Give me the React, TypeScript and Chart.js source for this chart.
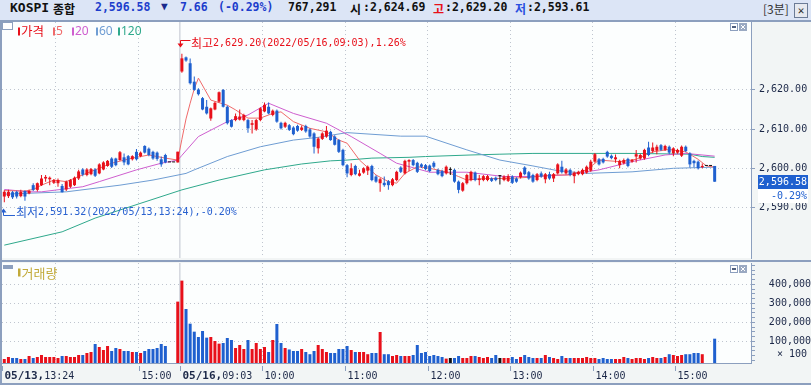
import React, { useEffect, useRef } from 'react';
import { Chart, registerables } from 'chart.js';

Chart.register(...registerables);

// ---------------- data (3-minute bars, 05/13 13:24 .. 05/16 15:30) ----------------
const opens = [
  2592.8, 2592.9, 2593.9, 2594.0, 2592.9, 2594.2, 2593.6, 2595.7, 2594.5, 2595.7,
  2597.4, 2597.2, 2596.3, 2596.2, 2595.5, 2594.6, 2595.3, 2595.7, 2597.4, 2599.7,
  2598.3, 2598.5, 2599.7, 2598.7, 2599.7, 2600.6, 2602.5, 2602.5, 2602.1, 2602.8,
  2603.1, 2602.3, 2604.2, 2603.1, 2605.7, 2605.0, 2604.2, 2604.0, 2602.3, 2603.4,
  2601.5, 2601.5, 2601.5, 2624.69, 2628.3, 2626.8, 2622.1, 2620.1, 2617.9, 2615.7,
  2612.7, 2615.0, 2617.0, 2620.0, 2615.7, 2612.3, 2612.3, 2612.4, 2612.3, 2612.3,
  2611.1, 2609.9, 2612.3, 2614.5, 2615.7, 2613.6, 2614.7, 2611.6, 2610.6, 2611.0,
  2610.4, 2610.8, 2609.8, 2610.8, 2609.9, 2608.9, 2605.1, 2607.5, 2608.1, 2609.3,
  2608.1, 2607.2, 2604.7, 2600.8, 2598.3, 2600.6, 2598.1, 2598.9, 2599.4, 2600.6,
  2597.9, 2596.2, 2596.3, 2596.7, 2595.7, 2597.0, 2600.2, 2598.7, 2601.7, 2602.1,
  2601.4, 2601.0, 2600.8, 2600.7, 2601.4, 2599.6, 2599.3, 2598.7, 2599.6, 2599.6,
  2596.6, 2594.3, 2596.2, 2597.0, 2598.9, 2597.0, 2597.0, 2597.0, 2597.4, 2597.6,
  2598.0, 2597.0, 2596.8, 2597.9, 2597.4, 2597.7, 2600.2, 2599.0, 2598.3, 2597.0,
  2598.7, 2597.2, 2598.5, 2597.4, 2598.7, 2600.4, 2598.7, 2599.6, 2598.0, 2598.5,
  2598.5, 2598.9, 2599.4, 2601.7, 2602.3, 2602.4, 2604.2, 2603.2, 2602.3, 2600.8,
  2601.3, 2602.4, 2601.7, 2603.0, 2602.5, 2602.5, 2605.3, 2604.4, 2604.5, 2605.9,
  2604.7, 2605.5, 2603.8, 2604.0, 2603.2, 2605.5, 2603.8, 2601.9, 2601.7, 2600.3,
  2600.6, 2600.6, 2600.6,
];
const highs = [
  2594.4, 2594.5, 2594.2, 2594.3, 2594.5, 2594.4, 2594.5, 2596.2, 2596.4, 2598.3,
  2598.3, 2597.9, 2597.3, 2597.4, 2596.0, 2596.9, 2597.3, 2597.9, 2599.6, 2600.0,
  2600.0, 2600.1, 2600.0, 2601.3, 2601.8, 2602.1, 2602.8, 2602.7, 2604.4, 2603.8,
  2603.4, 2603.3, 2604.9, 2604.3, 2605.9, 2605.3, 2604.5, 2604.3, 2603.0, 2603.7,
  2601.5, 2601.5, 2604.24, 2629.2, 2628.5, 2628.0, 2623.4, 2620.4, 2618.2, 2617.4,
  2615.5, 2617.0, 2619.6, 2620.2, 2616.0, 2612.5, 2614.0, 2615.0, 2613.9, 2612.6,
  2612.3, 2612.6, 2615.6, 2616.8, 2616.8, 2615.0, 2615.0, 2611.9, 2611.9, 2611.3,
  2610.7, 2611.1, 2610.9, 2611.1, 2610.2, 2609.2, 2607.9, 2609.2, 2610.8, 2609.6,
  2608.4, 2607.5, 2605.0, 2601.1, 2601.3, 2600.9, 2599.6, 2600.3, 2600.7, 2600.9,
  2598.2, 2597.5, 2597.9, 2597.0, 2597.5, 2599.4, 2600.5, 2602.2, 2602.3, 2602.4,
  2601.7, 2601.3, 2601.1, 2601.0, 2601.8, 2599.9, 2599.6, 2600.7, 2600.3, 2599.9,
  2596.9, 2596.5, 2598.6, 2599.4, 2599.2, 2598.3, 2598.3, 2598.3, 2597.7, 2597.9,
  2598.3, 2598.2, 2598.5, 2598.2, 2597.7, 2599.2, 2600.5, 2599.3, 2598.6, 2598.8,
  2599.2, 2598.8, 2599.1, 2598.8, 2601.3, 2601.9, 2600.0, 2599.9, 2599.2, 2599.4,
  2599.9, 2600.7, 2602.2, 2603.9, 2602.6, 2602.7, 2604.5, 2603.5, 2603.5, 2602.2,
  2602.5, 2602.7, 2602.4, 2604.7, 2603.7, 2605.0, 2606.8, 2606.6, 2606.0, 2606.2,
  2606.0, 2605.8, 2605.4, 2605.0, 2605.8, 2605.8, 2604.1, 2602.2, 2602.0, 2601.2,
  2600.6, 2600.6, 2600.6,
];
const lows = [
  2591.32, 2592.4, 2592.2, 2592.3, 2592.6, 2591.7, 2593.4, 2594.2, 2594.1, 2595.5,
  2596.6, 2595.7, 2596.0, 2595.3, 2593.8, 2594.2, 2595.0, 2595.5, 2597.0, 2598.0,
  2598.0, 2598.2, 2597.8, 2598.5, 2599.5, 2600.4, 2600.1, 2600.5, 2601.9, 2600.8,
  2600.8, 2602.0, 2602.0, 2602.8, 2603.8, 2603.1, 2602.2, 2601.9, 2600.4, 2601.3,
  2601.5, 2601.5, 2601.5, 2624.4, 2627.2, 2621.4, 2619.8, 2618.6, 2614.8, 2613.7,
  2612.1, 2614.8, 2616.8, 2615.5, 2611.2, 2610.4, 2612.0, 2612.2, 2612.0, 2609.1,
  2608.9, 2609.6, 2612.0, 2614.3, 2613.8, 2613.3, 2611.6, 2609.9, 2610.3, 2609.5,
  2608.4, 2609.3, 2609.5, 2609.1, 2607.8, 2603.8, 2603.8, 2607.2, 2607.8, 2607.0,
  2605.8, 2603.9, 2600.5, 2597.7, 2598.0, 2598.2, 2597.9, 2598.6, 2598.3, 2596.7,
  2596.3, 2594.0, 2595.3, 2594.5, 2595.4, 2596.7, 2598.8, 2598.4, 2599.3, 2600.5,
  2598.8, 2600.1, 2599.5, 2599.0, 2600.1, 2598.2, 2597.7, 2598.4, 2598.3, 2596.3,
  2593.61, 2594.0, 2595.9, 2596.7, 2596.7, 2595.7, 2596.7, 2596.7, 2596.5, 2596.7,
  2595.9, 2596.7, 2596.5, 2596.0, 2596.3, 2597.4, 2598.2, 2597.1, 2596.3, 2596.7,
  2597.6, 2596.2, 2597.1, 2596.5, 2598.4, 2598.7, 2598.4, 2598.0, 2596.2, 2598.2,
  2598.2, 2598.6, 2599.1, 2601.4, 2600.7, 2601.2, 2602.7, 2602.3, 2601.4, 2600.0,
  2601.0, 2600.3, 2601.4, 2601.5, 2602.2, 2602.2, 2603.1, 2603.9, 2603.6, 2604.4,
  2604.4, 2603.6, 2603.1, 2603.7, 2602.9, 2604.1, 2600.2, 2600.3, 2599.7, 2600.0,
  2600.6, 2600.6, 2596.58,
];
const closes = [
  2594.0, 2594.0, 2592.6, 2592.8, 2594.0, 2592.8, 2594.2, 2594.5, 2596.2, 2597.4,
  2597.8, 2597.6, 2597.0, 2597.0, 2593.9, 2596.6, 2597.0, 2597.6, 2599.2, 2598.4,
  2599.7, 2599.8, 2598.1, 2601.0, 2601.5, 2601.9, 2600.4, 2600.8, 2604.1, 2601.5,
  2601.0, 2603.1, 2602.3, 2604.0, 2604.0, 2603.4, 2602.5, 2602.4, 2601.0, 2601.5,
  2601.5, 2601.5, 2604.24, 2628.05, 2627.5, 2621.7, 2620.0, 2618.9, 2615.0, 2614.0,
  2615.3, 2616.7, 2619.4, 2615.7, 2611.5, 2610.6, 2613.3, 2613.2, 2613.6, 2610.2,
  2611.5, 2612.3, 2615.3, 2616.2, 2614.0, 2614.7, 2611.9, 2610.2, 2611.6, 2609.8,
  2608.7, 2609.6, 2610.4, 2609.4, 2608.1, 2605.5, 2607.6, 2608.9, 2609.6, 2607.2,
  2606.0, 2604.2, 2600.8, 2598.7, 2600.0, 2598.5, 2598.7, 2600.0, 2600.4, 2597.0,
  2596.6, 2597.2, 2595.7, 2595.7, 2597.2, 2599.1, 2599.1, 2601.9, 2602.1, 2600.8,
  2599.1, 2600.4, 2599.8, 2599.3, 2600.4, 2598.5, 2598.0, 2600.4, 2599.6, 2596.6,
  2594.5, 2596.2, 2598.3, 2599.1, 2597.0, 2597.4, 2598.0, 2598.0, 2596.8, 2597.0,
  2598.0, 2597.9, 2598.0, 2596.3, 2596.6, 2598.9, 2598.5, 2597.4, 2596.6, 2598.5,
  2597.9, 2598.5, 2597.4, 2598.5, 2601.0, 2599.0, 2599.7, 2598.3, 2598.9, 2599.1,
  2599.6, 2600.4, 2601.7, 2603.6, 2601.0, 2601.5, 2603.0, 2602.6, 2602.8, 2601.9,
  2602.1, 2600.6, 2602.1, 2603.6, 2603.4, 2604.7, 2603.4, 2605.3, 2605.5, 2604.7,
  2605.7, 2604.0, 2605.1, 2604.7, 2605.5, 2604.4, 2601.0, 2601.3, 2600.0, 2600.6,
  2600.6, 2600.6, 2596.58,
];
const volumes = [
  6800, 17400, 12100, 12100, 6800, 6800, 22600, 12100, 17400, 27900,
  17400, 17400, 17400, 12100, 22600, 22600, 17400, 17400, 27900, 27900,
  38400, 43700, 85800, 70000, 54200, 75300, 49000, 64700, 59500, 49000,
  49000, 43700, 43700, 38400, 49000, 59500, 59500, 64700, 85800, 75300,
  0, 0, 308800, 419400, 270000, 192800, 150700, 122700, 154200, 119200,
  122700, 101600, 87600, 91100, 117400, 106900, 64700, 80500, 59500, 106900,
  59500, 91100, 59500, 70000, 43700, 106900, 191000, 91100, 64700, 57000,
  49000, 49000, 59500, 43700, 32100, 49000, 80500, 59500, 43700, 38400,
  38400, 59500, 59500, 75300, 54200, 43700, 43700, 43700, 32100, 38400,
  38400, 149000, 32100, 32100, 22600, 27900, 22600, 22600, 22600, 27900,
  80500, 38400, 43700, 22600, 27900, 22600, 17400, 9000, 12100, 12100,
  22600, 12100, 12100, 22600, 22600, 17400, 12100, 17400, 12100, 27900,
  12100, 12100, 12100, 17400, 6800, 17400, 27900, 17400, 12100, 12100,
  12100, 27900, 17400, 12100, 6800, 22600, 12100, 12100, 12100, 12100,
  12100, 17400, 12100, 12100, 6800, 12100, 6800, 6800, 6800, 6800,
  17400, 12100, 6800, 12100, 12100, 6800, 12100, 17400, 12100, 12100,
  17400, 32100, 27900, 22600, 27900, 32100, 32100, 38400, 38400, 32100,
  0, 0, 113800,
];

// moving averages: [bar index, value]
const ma5 = [
  [0, 2594.3], [5, 2594.2], [7, 2594.6], [9, 2595.7], [12, 2597.0], [15, 2596.6], [18, 2597.9],
  [22, 2599.6], [26, 2601.3], [31, 2602.6], [35, 2603.4], [39, 2602.6], [42, 2602.1], [43, 2607.4],
  [44, 2612.6], [45, 2616.6], [46, 2620.3], [47, 2623.0], [50, 2617.4], [54, 2616.1], [56, 2614.9],
  [59, 2612.8], [62, 2612.8], [65, 2614.0], [67, 2614.4], [70, 2611.9], [74, 2610.2], [78, 2609.3],
  [81, 2607.2], [83, 2606.4], [86, 2602.1], [90, 2598.3], [93, 2596.6], [95, 2596.2], [97, 2598.7],
  [100, 2600.4], [103, 2600.0], [107, 2599.1], [110, 2597.9], [112, 2597.0], [114, 2597.2],
  [117, 2597.4], [122, 2597.4], [127, 2597.7], [133, 2598.3], [137, 2598.3], [141, 2599.6],
  [144, 2602.1], [149, 2601.7], [153, 2602.3], [157, 2604.2], [161, 2604.8], [165, 2604.2],
  [168, 2602.3], [170, 2600.6], [172, 2600.3],
];
const ma20 = [
  [0, 2594.6], [6, 2594.0], [9, 2594.0], [19, 2595.3], [23, 2596.6], [32, 2599.6], [38, 2601.3],
  [42, 2602.1], [43, 2603.3], [47, 2608.1], [54, 2611.9], [59, 2613.6], [64, 2616.6], [70, 2614.0],
  [78, 2611.5], [84, 2608.1], [91, 2603.8], [95, 2601.3], [103, 2599.0], [112, 2599.0],
  [121, 2597.9], [128, 2597.9], [136, 2598.3], [144, 2599.6], [152, 2601.7], [160, 2603.4],
  [165, 2603.8], [172, 2603.1],
];
const ma60 = [
  [0, 2593.4], [15, 2594.0], [28, 2595.7], [36, 2597.0], [44, 2598.7], [46, 2599.6], [54, 2603.0],
  [62, 2605.5], [70, 2607.2], [76, 2607.9], [83, 2609.1], [96, 2608.2], [102, 2608.2],
  [112, 2604.7], [120, 2602.1], [128, 2600.6], [134, 2599.4], [141, 2598.7], [152, 2599.1],
  [162, 2600.0], [172, 2600.3],
];
const ma120 = [
  [0, 2580.4], [14, 2583.8], [22, 2587.3], [43, 2594.5], [52, 2597.0], [63, 2599.6], [72, 2601.1],
  [79, 2601.9], [83, 2602.1], [89, 2602.6], [98, 2602.8], [102, 2603.0], [113, 2603.4],
  [120, 2603.6], [128, 2603.8], [152, 2603.8], [166, 2603.6], [169, 2603.0], [172, 2602.8],
];

const prevDayCloseIdx = 42;
const priceTicks = [2590, 2600, 2610, 2620];
const volumeLabelTicks = [100000, 200000, 300000, 400000];
const volumeMinorStep = 25000;
const gridIdx = [12.5, 32.5, 62.5, 82.5, 102.5, 122.5, 142.5, 162.5];
const dateSepIdx = 42.5;
const axisTickIdx = [-0.5, 32.5, 42.5, 62.5, 82.5, 102.5, 122.5, 142.5, 162.5];
const axisDates = ['05/13,', '', '05/16,', '', '', '', '', '', ''];
const axisTimes = ['13:24', '15:00', '09:03', '10:00', '11:00', '12:00', '13:00', '14:00', '15:00'];
const legendLabels = ['가격', '5', '20', '60', '120'];
const volumeLegend = '거래량';
const highStamp = '2022/05/16,09:03';
const lowStamp = '2022/05/13,13:24';
const headerTitle = 'KOSPI';
const headerMarket = '종합';
const headerTotalVolume = '767,291';
const headerPeriod = '[3분]';

// ---------------- view constants ----------------
const X_MIN = -0.557;
const X_MAX = 180.8;
const P_MIN = 2577.12;
const P_MAX = 2637.32;
const V_MIN = -14210;
const V_MAX = 512100;

const C = {
  up: '#e8101a', down: '#1f60cf', flat: '#111111',
  ma5: '#f06a6a', ma20: '#cf5fcf', ma60: '#6f9dd3', ma120: '#2fa98c',
  frame: '#8c9fbe', grid: '#bfc5cf', plotBg: '#fcfefe', axisBg: '#f2f5f5',
  navy: '#1c2848', volLegend: '#c2aa3a', headerBg: '#dce5f6', sep: '#d3d7de',
  hdrBlue: '#1c3dcc', lowText: '#2a62d0',
};
const MONO = '"DejaVu Sans Mono", "Noto Sans CJK KR", monospace';
const KR = '"Noto Sans CJK KR", "Noto Sans", sans-serif';

const fmt2 = (v: number) => v.toLocaleString('en-US', { minimumFractionDigits: 2, maximumFractionDigits: 2 });
const fmt0 = (v: number) => v.toLocaleString('en-US');
const candleColor = (i: number) => (closes[i] > opens[i] ? C.up : closes[i] < opens[i] ? C.down : C.flat);

function drawMixed(ctx: any, x: number, y: number, parts: [string, string][]) {
  let cx = x;
  for (const [t, f] of parts) {
    ctx.font = f;
    ctx.fillText(t, cx, y);
    cx += ctx.measureText(t).width;
  }
}

function drawPanelIcons(ctx: any, x: number, y: number) {
  ctx.fillStyle = '#ffffff';
  ctx.fillRect(x, y, 8, 8);
  ctx.strokeStyle = C.frame;
  ctx.lineWidth = 1;
  ctx.strokeRect(x + 0.5, y + 0.5, 7, 7);
  ctx.fillStyle = '#4f5f7e';
  ctx.fillRect(x + 2, y + 3, 4, 2);
  ctx.fillStyle = '#9aa9c2';
  ctx.fillRect(x + 9, y, 8, 8);
  ctx.strokeStyle = '#ffffff';
  ctx.beginPath();
  ctx.moveTo(x + 11, y + 2);
  ctx.lineTo(x + 15, y + 6);
  ctx.moveTo(x + 15, y + 2);
  ctx.lineTo(x + 11, y + 6);
  ctx.stroke();
}

function xScale(showBorder: boolean) {
  return {
    type: 'linear',
    min: X_MIN,
    max: X_MAX,
    offset: false,
    grid: { color: C.grid, lineWidth: 1, drawTicks: false, offset: false },
    border: { display: showBorder, color: C.frame, width: 1, dash: [1, 3] },
    ticks: { display: false },
    afterBuildTicks: (s: any) => { s.ticks = gridIdx.map((v) => ({ value: v })); },
    afterFit: (s: any) => { s.height = 0; s.paddingLeft = 0; s.paddingRight = 0; s.paddingTop = 0; s.paddingBottom = 0; },
  };
}

function plotBg(chart: any) {
  const { ctx, chartArea: a } = chart;
  ctx.save();
  ctx.fillStyle = C.plotBg;
  ctx.fillRect(a.left, a.top, a.right - a.left, a.bottom - a.top);
  ctx.restore();
}

function dateSep(chart: any) {
  const { ctx, chartArea: a } = chart;
  const px = chart.scales.x.getPixelForValue(dateSepIdx);
  ctx.save();
  ctx.fillStyle = C.sep;
  ctx.fillRect(px - 0.75, a.top, 1.5, a.bottom - a.top);
  ctx.restore();
}

const pricePlugin = {
  id: 'priceDeco',
  beforeDraw: plotBg,
  beforeDatasetsDraw: dateSep,
  afterDraw(chart: any) {
    const { ctx } = chart;
    const xs = chart.scales.x;
    const ys = chart.scales.y;
    const last = closes[closes.length - 1];
    const prev = closes[prevDayCloseIdx];
    ctx.save();
    // tab
    ctx.fillStyle = '#ffffff';
    ctx.fillRect(2, 0, 11, 8);
    ctx.strokeStyle = C.frame;
    ctx.lineWidth = 1;
    ctx.strokeRect(2.5, 0.5, 10, 7);
    // legend
    const legColors = [C.up, C.ma5, C.ma20, C.ma60, C.ma120];
    const legX = [18, 53, 72, 96, 118];
    ctx.textBaseline = 'middle';
    ctx.textAlign = 'left';
    legendLabels.forEach((t, k) => {
      ctx.fillStyle = legColors[k];
      ctx.fillRect(legX[k], 5.5, 2, 8);
      ctx.font = k === 0 ? `12.5px ${KR}` : `12px "Noto Sans", ${KR}`;
      ctx.fillText(t, legX[k] + 3, 9.5);
    });
    drawPanelIcons(ctx, 730, 1);

    // high marker
    const hi = Math.max(...highs);
    const hiIdx = highs.indexOf(hi);
    const hx = Math.floor(xs.getPixelForValue(hiIdx)) - 0.5;
    const hy = ys.getPixelForValue(hi);
    const hTop = Math.round(hy - 14) + 0.5;
    ctx.strokeStyle = C.up;
    ctx.fillStyle = C.up;
    ctx.beginPath();
    ctx.moveTo(hx, hTop);
    ctx.lineTo(hx + 10, hTop);
    ctx.moveTo(hx, hTop);
    ctx.lineTo(hx, hTop + 4);
    ctx.stroke();
    ctx.beginPath();
    ctx.moveTo(hx - 3, hTop + 3);
    ctx.lineTo(hx + 3, hTop + 3);
    ctx.lineTo(hx, hTop + 7);
    ctx.closePath();
    ctx.fill();
    const hiPct = ((hi - last) / last) * 100;
    drawMixed(ctx, hx + 10.5, hTop + 3, [
      ['최고', `12px ${KR}`],
      [`${fmt2(hi)}(${highStamp}),${hiPct.toFixed(2)}%`, `10px ${MONO}`],
    ]);

    // low marker
    const lo = Math.min(...lows);
    const loIdx = lows.indexOf(lo);
    const lx = Math.floor(xs.getPixelForValue(loIdx)) - 0.5;
    const ly = ys.getPixelForValue(lo);
    const lBot = Math.round(ly + 13) + 0.5;
    ctx.strokeStyle = C.lowText;
    ctx.fillStyle = C.lowText;
    ctx.beginPath();
    ctx.moveTo(lx, lBot);
    ctx.lineTo(lx + 11.5, lBot);
    ctx.moveTo(lx, lBot);
    ctx.lineTo(lx, lBot - 5);
    ctx.stroke();
    ctx.beginPath();
    ctx.moveTo(lx - 3, lBot - 3);
    ctx.lineTo(lx + 3, lBot - 3);
    ctx.lineTo(lx, lBot - 7);
    ctx.closePath();
    ctx.fill();
    const loPct = ((lo - last) / last) * 100;
    drawMixed(ctx, lx + 12.5, lBot - 3, [
      ['최저', `12px ${KR}`],
      [`${fmt2(lo)}(${lowStamp}),${loPct.toFixed(2)}%`, `10px ${MONO}`],
    ]);

    // current price box
    const py = ys.getPixelForValue(last);
    const bt = Math.round(py - 7);
    ctx.fillStyle = C.down;
    ctx.fillRect(758, bt, 50, 14);
    ctx.fillStyle = '#ffffff';
    ctx.fillRect(758, bt + 14, 50, 14);
    ctx.font = `10px ${MONO}`;
    ctx.textAlign = 'right';
    ctx.fillText(fmt2(last), 807, bt + 7);
    ctx.fillStyle = '#2060d0';
    const chg = ((last - prev) / prev) * 100;
    ctx.fillText(`${chg.toFixed(2)}%`, 807, bt + 21);
    ctx.restore();
  },
};

const volumePlugin = {
  id: 'volDeco',
  beforeDraw: plotBg,
  beforeDatasetsDraw: dateSep,
  afterDraw(chart: any) {
    const { ctx, chartArea: a } = chart;
    const xs = chart.scales.x;
    ctx.save();
    ctx.fillStyle = C.frame;
    ctx.fillRect(3, 3, 10, 4);
    ctx.fillStyle = C.volLegend;
    ctx.fillRect(18, 6.5, 2.5, 8);
    ctx.textBaseline = 'middle';
    ctx.textAlign = 'left';
    ctx.font = `13px ${KR}`;
    ctx.fillText(volumeLegend, 21.5, 11.5);
    drawPanelIcons(ctx, 730, 3);

    ctx.fillStyle = C.navy;
    ctx.textAlign = 'right';
    ctx.font = `10px ${MONO}`;
    ctx.fillText('× 100', 807, 92);

    // x-axis labels
    ctx.textAlign = 'left';
    axisTickIdx.forEach((v, k) => {
      const px = Math.round(xs.getPixelForValue(v)) + 0.5;
      ctx.strokeStyle = C.frame;
      ctx.lineWidth = 1;
      ctx.beginPath();
      ctx.moveTo(px, a.bottom + 3);
      ctx.lineTo(px, a.bottom + 8);
      ctx.stroke();
      ctx.fillStyle = C.navy;
      let tx = px + 2;
      if (axisDates[k]) {
        ctx.font = `bold 11px ${MONO}`;
        ctx.fillText(axisDates[k], tx, 114);
        tx += ctx.measureText(axisDates[k]).width;
      }
      ctx.font = `10px ${MONO}`;
      ctx.fillText(axisTimes[k], tx, 114);
    });
    ctx.restore();
  },
};

export default function App() {
  const priceRef = useRef<HTMLCanvasElement | null>(null);
  const volRef = useRef<HTMLCanvasElement | null>(null);

  useEffect(() => {
    const colors = opens.map((_, i) => candleColor(i));
    const wickData = opens.map((_, i) => ({ x: i, y: [lows[i], highs[i]] }));
    const bodyData = opens.map((o, i) => ({ x: i, y: [o, closes[i]] }));
    const maLine = (pts: number[][], color: string, order: number) => ({
      type: 'line',
      data: pts.map(([x, y]) => ({ x, y })),
      borderColor: color,
      borderWidth: 1,
      pointRadius: 0,
      fill: false,
      tension: 0,
      order,
    });

    const priceChart = new Chart(priceRef.current as any, {
      type: 'bar',
      data: {
        datasets: [
          maLine(ma120, C.ma120, 6),
          maLine(ma60, C.ma60, 5),
          maLine(ma20, C.ma20, 4),
          maLine(ma5, C.ma5, 3),
          {
            type: 'bar', data: wickData, backgroundColor: colors, grouped: false,
            barThickness: 1, maxBarThickness: 1, inflateAmount: 0, borderWidth: 0, order: 1,
          },
          {
            type: 'bar', data: bodyData, backgroundColor: colors, grouped: false,
            barThickness: 3, maxBarThickness: 3, minBarLength: 1, inflateAmount: 0, borderWidth: 0, order: 0,
          },
        ],
      } as any,
      options: {
        animation: false,
        responsive: false,
        maintainAspectRatio: false,
        devicePixelRatio: 1,
        events: [],
        layout: { padding: { left: 2, top: 0, right: 0, bottom: 2 } },
        plugins: { legend: { display: false }, tooltip: { enabled: false } },
        scales: {
          x: xScale(false),
          y: {
            position: 'right',
            min: P_MIN,
            max: P_MAX,
            grid: { color: C.grid, lineWidth: 1, tickLength: 4, tickColor: C.frame, tickWidth: 1, tickBorderDash: [] },
            border: { display: true, color: C.frame, width: 1, dash: [1, 3] },
            ticks: {
              padding: 4, color: C.navy, autoSkip: false,
              font: { family: MONO, size: 10 },
              callback: (v: any) => fmt2(Number(v)),
            },
            afterBuildTicks: (s: any) => { s.ticks = priceTicks.map((v) => ({ value: v })); },
            afterFit: (s: any) => { s.width = 60; s.paddingTop = 0; s.paddingBottom = 0; },
          },
        } as any,
      },
      plugins: [pricePlugin],
    } as any);

    const volData: any[] = [];
    const volColors: string[] = [];
    volumes.forEach((v, i) => {
      if (v > 0) {
        volData.push({ x: i, y: [V_MIN, v] });
        volColors.push(candleColor(i));
      }
    });

    const volChart = new Chart(volRef.current as any, {
      type: 'bar',
      data: {
        datasets: [
          {
            type: 'bar', data: volData, backgroundColor: volColors, grouped: false,
            barThickness: 3, maxBarThickness: 3, inflateAmount: 0, borderWidth: 0,
          },
        ],
      } as any,
      options: {
        animation: false,
        responsive: false,
        maintainAspectRatio: false,
        devicePixelRatio: 1,
        events: [],
        layout: { padding: { left: 2, top: 1, right: 0, bottom: 22 } },
        plugins: { legend: { display: false }, tooltip: { enabled: false } },
        scales: {
          x: xScale(true),
          y: {
            position: 'right',
            min: V_MIN,
            max: V_MAX,
            grid: {
              color: (c: any) => (c.tick && volumeLabelTicks.includes(c.tick.value) ? C.grid : 'rgba(0,0,0,0)'),
              lineWidth: 1, tickLength: 4, tickColor: C.frame, tickWidth: 1, tickBorderDash: [],
            },
            border: { display: true, color: C.frame, width: 1, dash: [1, 3] },
            ticks: {
              padding: 10, crossAlign: 'far', color: C.navy, autoSkip: false,
              font: { family: MONO, size: 10 },
              callback: (v: any) => (volumeLabelTicks.includes(Number(v)) ? fmt0(Number(v)) : ''),
            },
            afterBuildTicks: (s: any) => {
              const t: any[] = [];
              for (let v = 0; v <= V_MAX; v += volumeMinorStep) t.push({ value: v });
              s.ticks = t;
            },
            afterFit: (s: any) => { s.width = 60; s.paddingTop = 0; s.paddingBottom = 0; },
          },
        } as any,
      },
      plugins: [volumePlugin],
    } as any);

    return () => {
      priceChart.destroy();
      volChart.destroy();
    };
  }, []);

  const last = closes[closes.length - 1];
  const prev = closes[prevDayCloseIdx];
  const diff = last - prev;
  const pct = (diff / prev) * 100;
  const dayOpen = opens[43];
  const dayHigh = Math.max(...highs.slice(43));
  const dayLow = Math.min(...lows.slice(43));

  const hdr = (left: number, text: string, color: string, font: string) => (
    <span style={{ position: 'absolute', left, top: 0, height: 20, lineHeight: '21px', color, font, whiteSpace: 'pre' }}>{text}</span>
  );
  const B = `bold 11.5px ${MONO}`;
  const BK = `bold 12px ${KR}`;

  return (
    <div style={{ position: 'absolute', left: 0, top: 0, width: 811, height: 385, background: C.axisBg, overflow: 'hidden' }}>
      <div style={{ position: 'absolute', left: 0, top: 0, width: 811, height: 20, background: C.headerBg }} />
      {hdr(10, headerTitle, '#111111', `bold 13px ${MONO}`)}
      {hdr(53, headerMarket, '#111111', BK)}
      {hdr(95, fmt2(last), C.hdrBlue, B)}
      {hdr(161, '▼', '#1a2a8c', `bold 11px ${MONO}`)}
      {hdr(180, Math.abs(diff).toFixed(2), C.hdrBlue, B)}
      {hdr(218, `(${pct.toFixed(2)}%)`, C.hdrBlue, B)}
      {hdr(288, headerTotalVolume, '#111111', B)}
      {hdr(350, '시', '#111111', BK)}
      {hdr(363, ':' + fmt2(dayOpen), '#111111', B)}
      {hdr(433, '고', '#e8101a', BK)}
      {hdr(445, ':' + fmt2(dayHigh), '#111111', B)}
      {hdr(515, '저', '#2a4fe0', BK)}
      {hdr(527, ':' + fmt2(dayLow), '#111111', B)}
      {hdr(763, headerPeriod, '#333333', `12px ${KR}`)}
      <div style={{ position: 'absolute', left: 794, top: 3, width: 12, height: 13, border: '1px solid #6b7b96', background: '#e6e9ef', color: '#333', font: `bold 11px ${MONO}`, lineHeight: '13px', textAlign: 'center' }}>✕</div>

      <canvas ref={priceRef} width={811} height={238} style={{ position: 'absolute', left: 0, top: 22 }} />
      <canvas ref={volRef} width={811} height={123} style={{ position: 'absolute', left: 0, top: 262 }} />

      <div style={{ position: 'absolute', left: 0, top: 20, width: 811, height: 2, background: C.frame }} />
      <div style={{ position: 'absolute', left: 0, top: 260, width: 811, height: 2, background: C.frame }} />
      <div style={{ position: 'absolute', left: 0, top: 383, width: 811, height: 2, background: C.frame }} />
      <div style={{ position: 'absolute', left: 0, top: 20, width: 2, height: 365, background: C.frame }} />
    </div>
  );
}
